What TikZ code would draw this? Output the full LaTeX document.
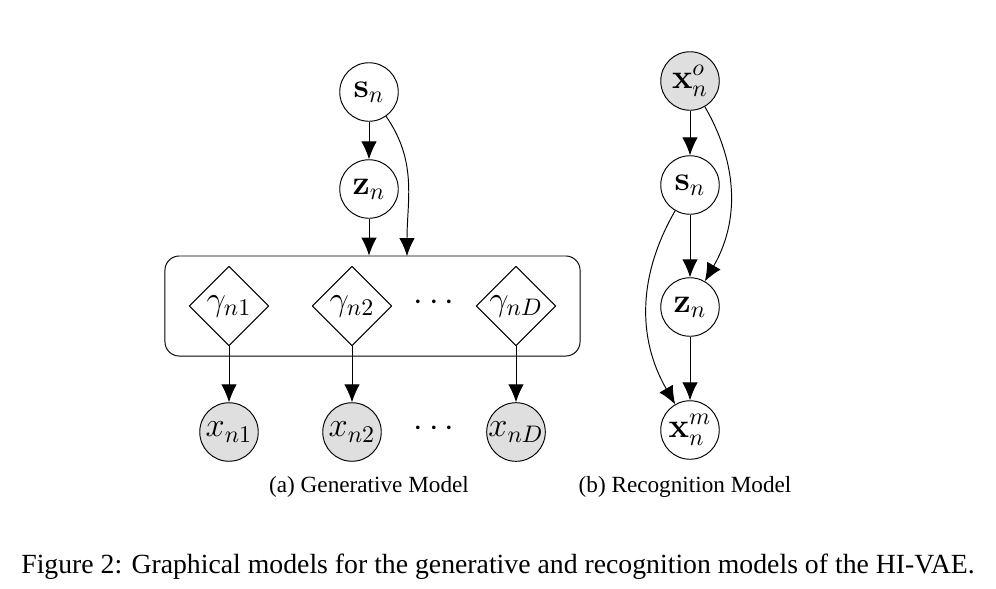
\documentclass[tikz,border=0pt]{standalone}
\usepackage[no-math]{fontspec}
\setmainfont{Liberation Serif}
\usetikzlibrary{arrows.meta,shapes.geometric}
\begin{document}
\begin{tikzpicture}[x=0.0147cm,y=-0.0147cm, line join=round, >={Latex[length=7.5pt,width=6.5pt]},
	latent/.style={draw,circle,minimum size=0.86cm,inner sep=0pt,font=\fontsize{14.5}{16}\selectfont},
	obs/.style={latent,fill=gray!25},
	det/.style={draw,diamond,minimum size=1.17cm,inner sep=0pt,font=\fontsize{14.5}{16}\selectfont},
	dotsnode/.style={font=\fontsize{14}{16}\selectfont}]
	\useasboundingbox (0,0) rectangle (996,588);
	% (a) generative model
	\node[latent] (sn) at (369,92) {$\mathbf{s}_n$};
	\node[latent] (zn) at (369,189) {$\mathbf{z}_n$};
	\node[draw,rounded corners=6pt,minimum width=6.1cm,minimum height=1.47cm] (plate) at (372.5,306) {};
	\node[det] (g1) at (229,306) {$\gamma_{n1}$};
	\node[det] (g2) at (352,306) {$\gamma_{n2}$};
	\node[dotsnode] (gdots) at (434,303) {$\cdots$};
	\node[det] (gD) at (516,306) {$\gamma_{nD}$};
	\node[obs] (x1) at (229,432) {$x_{n1}$};
	\node[obs] (x2) at (352,432) {$x_{n2}$};
	\node[dotsnode] (xdots) at (434,429) {$\cdots$};
	\node[obs] (xD) at (516,432) {$x_{nD}$};
	\coordinate (pin) at (407,256);
	\draw[->] (sn) -- (zn);
	\draw[->] (zn) -- (zn |- plate.north);
	\draw[->] (sn) to[out=-55,in=90] (pin);
	\foreach \i in {1,2,D}{
		\draw[->] (g\i) -- (x\i);}
	\node (capa) at (369,487) {\fontsize{9.7}{11}\selectfont (a) Generative Model};
	% (b) recognition model
	\node[obs] (xo) at (690,81) {$\mathbf{x}_n^o$};
	\node[latent] (sn2) at (690,185) {$\mathbf{s}_n$};
	\node[latent] (zn2) at (690,307) {$\mathbf{z}_n$};
	\node[latent] (xm) at (690,430) {$\mathbf{x}_n^m$};
	\draw[->] (xo) -- (sn2);
	\draw[->] (sn2) -- (zn2);
	\draw[->] (zn2) -- (xm);
	\draw[->] (xo) to[out=-60,in=60] (zn2);
	\draw[->] (sn2) to[out=-120,in=120] (xm);
	\node (capb) at (685,487) {\fontsize{9.7}{11}\selectfont (b) Recognition Model};
	% figure caption
	\node (cap) at (498,567) {\fontsize{11.6}{14}\selectfont Figure 2: Graphical models for the generative and recognition models of the HI-VAE.};
\end{tikzpicture}
\end{document}
